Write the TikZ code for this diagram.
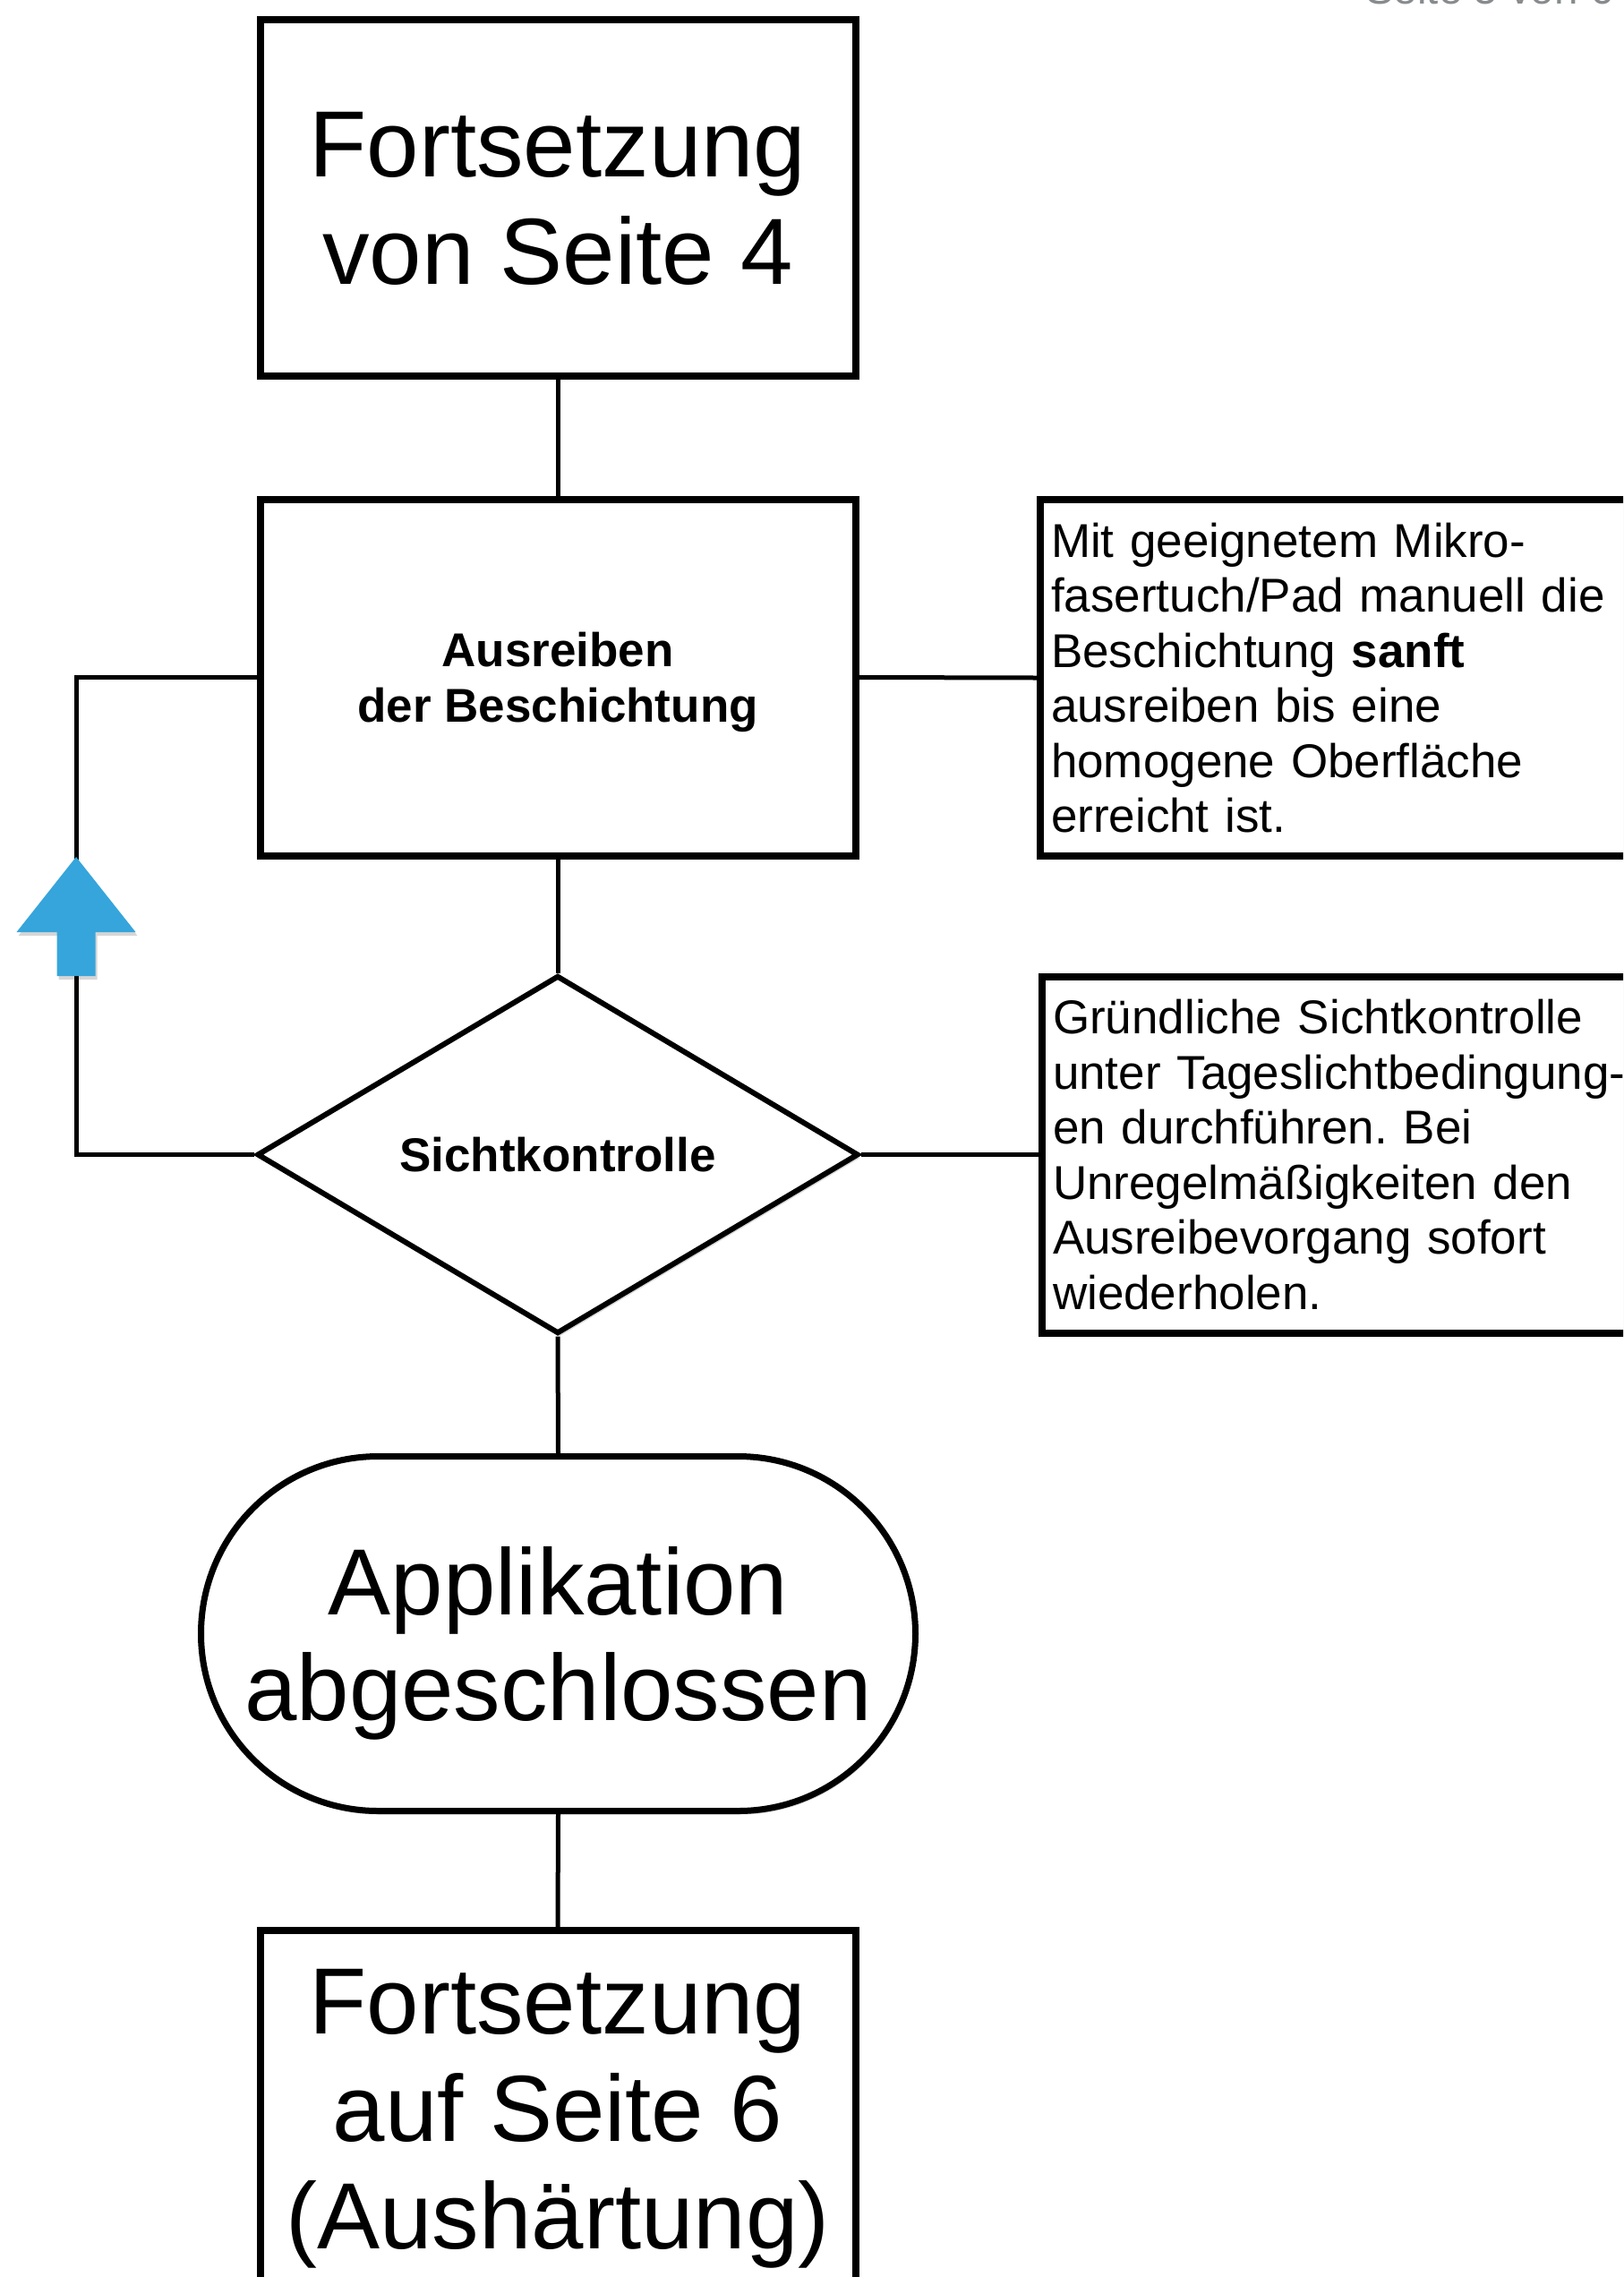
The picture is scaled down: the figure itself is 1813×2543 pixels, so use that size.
\documentclass[tikz,border=0pt]{standalone}
\usepackage{fontspec}
\setmainfont{Liberation Sans}
\usetikzlibrary{shapes.geometric,shadows}
\definecolor{arrowblue}{RGB}{54,165,219}
\definecolor{headgray}{RGB}{136,139,141}
\frenchspacing
\begin{document}
\begin{tikzpicture}[x=1pt,y=-1pt,
  shad/.style={drop shadow={shadow xshift=2pt,shadow yshift=-4pt,opacity=0.16,fill=black}},
  bigbox/.style={draw,line width=8pt,fill=white,shad,minimum width=665pt,minimum height=398pt,inner sep=0pt,align=center,font=\fontsize{105}{120}\selectfont,text depth=0pt},
  stepbox/.style={draw,line width=8pt,fill=white,shad,minimum width=665pt,minimum height=398pt,inner sep=0pt,align=center,font=\fontsize{53}{62}\selectfont\bfseries,text depth=0pt},
  decision/.style={diamond,draw,line width=6pt,fill=white,shad,minimum width=672pt,minimum height=400pt,inner sep=0pt,font=\fontsize{53}{62}\selectfont\bfseries},
  terminal/.style={draw,line width=7pt,fill=white,shad,rounded corners=198pt,minimum width=798pt,minimum height=396pt,inner sep=0pt,align=center,font=\fontsize{105}{118}\selectfont,text depth=0pt},
  note/.style={draw,line width=8pt,fill=white,shad,minimum width=740pt,minimum height=398pt,inner xsep=12pt,inner ysep=0pt,text width=716pt,align=left,font=\fontsize{53}{61.5}\selectfont},
  conn/.style={line width=5pt}]
\useasboundingbox (0,0) rectangle (1813,2543);
\clip (0,0) rectangle (1813,2543);

\node[anchor=base west,inner sep=0pt,text=headgray,font=\fontsize{47.5}{50}\selectfont] (hdr) at (1525,4) {Seite 5 von 6};

\node[bigbox] (start) at (623,221) {Fortsetzung\\von Seite 4};
\node[stepbox] (rub) at (623,756.5) {Ausreiben\\der Beschichtung};
\node[decision] (check) at (623,1289.5) {Sichtkontrolle};
\node[terminal] (done) at (623.5,1824.5) {Applikation\\abgeschlossen};
\node[bigbox] (next) at (623,2355) {Fortsetzung\\auf Seite 6\\(Aushärtung)};

\node[note] (n1) at (1532,757) {Mit geeignetem Mikro-\\fasertuch/Pad manuell die\\Beschichtung \textbf{sanft}\\ausreiben bis eine\\homogene Oberfläche\\erreicht ist.};
\node[note] (n2) at (1534,1289.5) {Gründliche Sichtkontrolle\\unter Tageslichtbedingung-\\en durchführen. Bei\\Unregelmäßigkeiten den\\Ausreibevorgang sofort\\wiederholen.};

\draw[conn] (start.south) -- (rub.north);
\draw[conn] (rub.south) -- (check.north);
\draw[conn] (check.south) -- (done.north);
\draw[conn] (done.south) -- (next.north);
\draw[conn] (rub.east) -- (n1.west);
\draw[conn] (check.east) -- (n2.west);
\draw[conn] (rub.west) -- ++(-201,0) coordinate (loopTop) |- (check.west);

\fill[arrowblue,shad] (85,957) -- (151.5,1041) -- (106.5,1041) -- (106.5,1090) -- (63.5,1090) -- (63.5,1041) -- (18.5,1041) -- cycle;
\end{tikzpicture}
\end{document}
